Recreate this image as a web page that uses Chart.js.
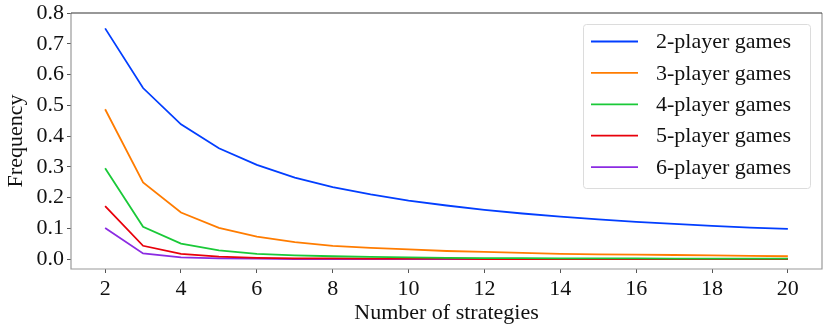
<!DOCTYPE html>
<html>
<head>
<meta charset="utf-8">
<script src="https://cdn.jsdelivr.net/npm/chart.js@4"></script>
<style>
  html, body { margin: 0; padding: 0; background: #fff; }
  #wrap { width: 830px; height: 329px; }
</style>
</head>
<body>
<div id="wrap"><canvas id="freqChart" width="830" height="329"></canvas></div>
<script>
// number of strategies per player
const strategies = [2, 3, 4, 5, 6, 7, 8, 9, 10, 11, 12, 13, 14, 15, 16, 17, 18, 19, 20];

// frequency, one list per player count
const twoPlayer   = [0.750, 0.556, 0.438, 0.360, 0.306, 0.265, 0.234, 0.210, 0.190, 0.174, 0.160, 0.148, 0.138, 0.129, 0.121, 0.114, 0.108, 0.102, 0.098];
const threePlayer = [0.487, 0.249, 0.151, 0.101, 0.073, 0.055, 0.043, 0.036, 0.031, 0.026, 0.023, 0.020, 0.017, 0.015, 0.014, 0.013, 0.012, 0.010, 0.009];
const fourPlayer  = [0.295, 0.105, 0.050, 0.028, 0.017, 0.012, 0.009, 0.007, 0.005, 0.004, 0.003, 0.003, 0.002, 0.002, 0.002, 0.001, 0.001, 0.001, 0.001];
const fivePlayer  = [0.172, 0.043, 0.017, 0.008, 0.004, 0.002, 0.002, 0.001, 0.001, 0.001, 0.000, 0.000, 0.000, 0.000, 0.000, 0.000, 0.000, 0.000, 0.000];
const sixPlayer   = [0.101, 0.018, 0.005, 0.002, 0.001, 0.000, 0.000, 0.000, 0.000, 0.000, 0.000, 0.000, 0.000, 0.000, 0.000, 0.000, 0.000, 0.000, 0.000];

const seriesLabels = ['2-player games', '3-player games', '4-player games', '5-player games', '6-player games'];
const seriesColors = ['#023eff', '#ff7c00', '#1ac938', '#e8000b', '#8b2be2'];
const seriesValues = [twoPlayer, threePlayer, fourPlayer, fivePlayer, sixPlayer];

const xTicks = [2, 4, 6, 8, 10, 12, 14, 16, 18, 20];
const yTicks = [0.0, 0.1, 0.2, 0.3, 0.4, 0.5, 0.6, 0.7, 0.8];

const FONT = "'Liberation Serif', 'DejaVu Serif', serif";

// frame around the plot area and the legend box in the top right
const framePlugin = {
    id: 'frame',
    afterDatasetsDraw(chart) {
        const c = chart.ctx;
        const a = chart.chartArea;
        c.save();
        c.lineWidth = 1.2;
        c.strokeStyle = '#9a9a9a';
        c.beginPath();
        c.moveTo(a.left, a.top);
        c.lineTo(a.left, a.bottom);
        c.lineTo(a.right, a.bottom);
        c.lineTo(a.right, a.top);
        c.stroke();
        c.strokeStyle = '#333';
        c.beginPath();
        c.moveTo(a.left, a.top);
        c.lineTo(a.right, a.top);
        c.stroke();

        // legend
        const bx = 583.5, by = 24.5, bw = 227, bh = 164;
        c.fillStyle = 'rgba(255,255,255,0.85)';
        c.strokeStyle = '#dcdcdc';
        c.lineWidth = 1;
        c.beginPath();
        c.roundRect(bx, by, bw, bh, 3);
        c.fill();
        c.stroke();
        c.font = '22px ' + FONT;
        c.textBaseline = 'middle';
        chart.data.datasets.forEach((ds, i) => {
            const y = 41.5 + i * 31.4;
            c.strokeStyle = ds.borderColor;
            c.lineWidth = 1.8;
            c.beginPath();
            c.moveTo(591, y);
            c.lineTo(638, y);
            c.stroke();
            c.fillStyle = '#111';
            c.fillText(ds.label, 656, y + 1);
        });
        c.restore();
    }
};

const ctx = document.getElementById('freqChart').getContext('2d');
const chart = new Chart(ctx, {
    type: 'line',
    data: {
        datasets: seriesValues.map((vals, i) => ({
            label: seriesLabels[i],
            data: strategies.map((s, j) => ({ x: s, y: vals[j] })),
            borderColor: seriesColors[i],
            backgroundColor: seriesColors[i],
            borderWidth: 1.8,
            pointRadius: 0,
            tension: 0,
            fill: false
        }))
    },
    options: {
        responsive: false,
        animation: false,
        layout: { padding: { top: 13, right: 8, left: 0, bottom: 0 } },
        plugins: {
            legend: { display: false },
            tooltip: { enabled: false }
        },
        scales: {
            x: {
                type: 'linear',
                min: 1.1,
                max: 20.9,
                afterBuildTicks: scale => { scale.ticks = xTicks.map(v => ({ value: v })); },
                afterFit: scale => { scale.height = 60; },
                grid: { drawOnChartArea: false, drawTicks: true, tickLength: 4, color: '#555' },
                border: { display: false },
                ticks: {
                    color: '#111',
                    font: { family: FONT, size: 22 },
                    padding: 3,
                    maxRotation: 0,
                    callback: v => String(v)
                },
                title: {
                    display: true,
                    text: 'Number of strategies',
                    color: '#111',
                    font: { family: FONT, size: 22 },
                    padding: { top: 0, bottom: 3 }
                }
            },
            y: {
                type: 'linear',
                min: -0.0325,
                max: 0.8,
                afterBuildTicks: scale => { scale.ticks = yTicks.map(v => ({ value: v })); },
                afterFit: scale => {
                    scale.width = 71;
                    scale.paddingTop = 0;
                    scale.paddingBottom = 0;
                },
                grid: { drawOnChartArea: false, drawTicks: true, tickLength: 4, color: '#555' },
                border: { display: false },
                ticks: {
                    color: '#111',
                    font: { family: FONT, size: 22 },
                    padding: 3,
                    callback: v => v.toFixed(1)
                },
                title: {
                    display: true,
                    text: 'Frequency',
                    color: '#111',
                    font: { family: FONT, size: 22 },
                    padding: { top: 3, bottom: 0 }
                }
            }
        }
    },
    plugins: [framePlugin]
});
</script>
</body>
</html>
